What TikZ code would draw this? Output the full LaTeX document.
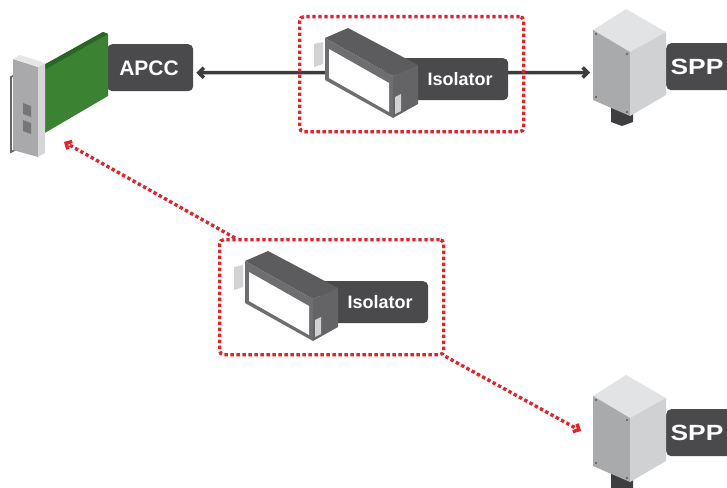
\documentclass[tikz,border=0pt]{standalone}
\usepackage{fontspec}
\setmainfont{Liberation Sans}
\usetikzlibrary{arrows.meta}
\definecolor{labc}{HTML}{4A4A4C}
\definecolor{redc}{HTML}{E3222A}
\definecolor{linec}{HTML}{3C3C3E}
\definecolor{isotop}{HTML}{5C5C5E}
\definecolor{isofront}{HTML}{6E6E70}
\definecolor{isoend}{HTML}{646466}
\definecolor{tabc}{HTML}{D2D2D4}
\definecolor{spptop}{HTML}{E2E3E4}
\definecolor{sppfront}{HTML}{A9AAAC}
\definecolor{sppside}{HTML}{D0D1D3}
\definecolor{connc}{HTML}{3E3E40}
\definecolor{pcb}{HTML}{3B8232}
\definecolor{pcbedge}{HTML}{2C6626}
\definecolor{fpfront}{HTML}{A9A9AB}
\definecolor{fpside}{HTML}{D6D6D8}
\definecolor{fptop}{HTML}{E6E6E7}
\definecolor{slotc}{HTML}{767678}
\tikzset{
  labbox/.style={fill=labc, rounded corners=5pt, inner sep=0pt},
  labtxt/.style={text=white, inner sep=0pt, font=\bfseries},
  dbox/.style={draw=redc, line width=3.4pt, dash pattern=on 3.4pt off 2.6pt, rounded corners=4pt, inner sep=0pt},
  darr/.style={draw=linec, line width=3.5pt, {Straight Barb[length=5pt,width=10pt]}-{Straight Barb[length=5pt,width=10pt]}},
  rarr/.style={draw=redc, line width=3.4pt, dash pattern=on 3.4pt off 2.6pt, -{Straight Barb[length=4.5pt,width=9pt]}},
  isolator/.pic={
    \node[labbox, minimum width=108pt, minimum height=42pt, anchor=north west] (-lab) at (400,58) {};
    \node[labtxt, font=\fontsize{18}{20}\selectfont\bfseries] (-txt) at (460,79.5) {Isolator};
    \fill[tabc] (314,44) -- (323,42) -- (323,64) -- (314,67) -- cycle;
    \fill[isotop] (325,38) -- (348,28) -- (418,65) -- (393,76) -- cycle;
    \fill[isofront] (325,38) -- (393,76) -- (393,118) -- (325,80) -- cycle;
    \fill[isoend] (393,76) -- (418,65) -- (418,104) -- (393,118) -- cycle;
    \fill[white] (329,49) -- (389,83) -- (389,112) -- (329,78) -- cycle;
    \fill[tabc] (395,97) -- (401,94) -- (401,111) -- (395,114) -- cycle;
    \node[dbox, minimum width=224pt, minimum height=115pt, anchor=north west] (-box) at (298,15) {};
  },
  spp/.pic={
    \node[labbox, minimum width=70pt, minimum height=47pt, anchor=north west] (-lab) at (666,43) {};
    \node[labtxt, font=\fontsize{22}{24}\selectfont\bfseries] (-txt) at (697,67) {\scalebox{1.2}[1]{SPP}};
    \fill[connc] (611,104) -- (633,106) -- (633,122) -- (622,126) -- (611,122) -- cycle;
    \fill[spptop] (593,30) -- (626,9) -- (666,32) -- (630,52) -- cycle;
    \fill[sppfront] (593,30) -- (630,52) -- (630,116) -- (593,100) -- cycle;
    \fill[sppside] (630,52) -- (666,32) -- (666,95) -- (630,116) -- cycle;
    \fill[black!65] (596,34) circle (1.2pt) (627,54) circle (1.2pt) (596,97) circle (1.2pt) (627,112) circle (1.2pt);
    \coordinate (-in) at (590,72.5);
    \coordinate (-port) at (581,65);
  }
}
\begin{document}
\begin{tikzpicture}[x=1pt,y=-1pt]
\useasboundingbox (0,0) rectangle (727,487);
% APCC card
\node[labbox, minimum width=86pt, minimum height=47pt, anchor=north west] (apcc) at (107,44) {};
\node[labtxt, font=\fontsize{21}{23}\selectfont\bfseries] (apcct) at (149,68) {APCC};
\fill[pcb] (42,66) -- (103,32) -- (108,34) -- (108,96) -- (43,134) -- cycle;
\fill[pcbedge] (42,66) -- (103,32) -- (108,34) -- (46,69) -- cycle;
\draw[black!60, line width=1.6pt] (17,74) -- (11,77) -- (11,152) -- (17,149);
\fill[fpfront] (13,59) -- (38,67) -- (38,157) -- (13,150) -- cycle;
\fill[fpside] (38,67) -- (45,63) -- (45,153) -- (38,157) -- cycle;
\fill[fptop] (13,59) -- (20,55) -- (45,63) -- (38,67) -- cycle;
\fill[slotc] (23,103) -- (31,106) -- (31,117) -- (23,114) -- cycle;
\fill[slotc] (23,120) -- (31,123) -- (31,134) -- (23,131) -- cycle;
\coordinate (apccport) at (64,142);
% SPPs
\pic (spp1) at (0,0) {spp};
\pic (spp2) at (0,366) {spp};
% main link
\draw[darr] ([xshift=3pt,yshift=-5pt]apcc.east) -- (spp1-in);
% isolators
\pic (iso1) at (0,0) {isolator};
\pic (iso2) at (-80,223) {isolator};
% red dotted links
\draw[rarr] ([xshift=17pt]iso2-box.north west) -- (apccport);
\draw[rarr] (iso2-box.south east) -- (spp2-port);
\end{tikzpicture}
\end{document}
